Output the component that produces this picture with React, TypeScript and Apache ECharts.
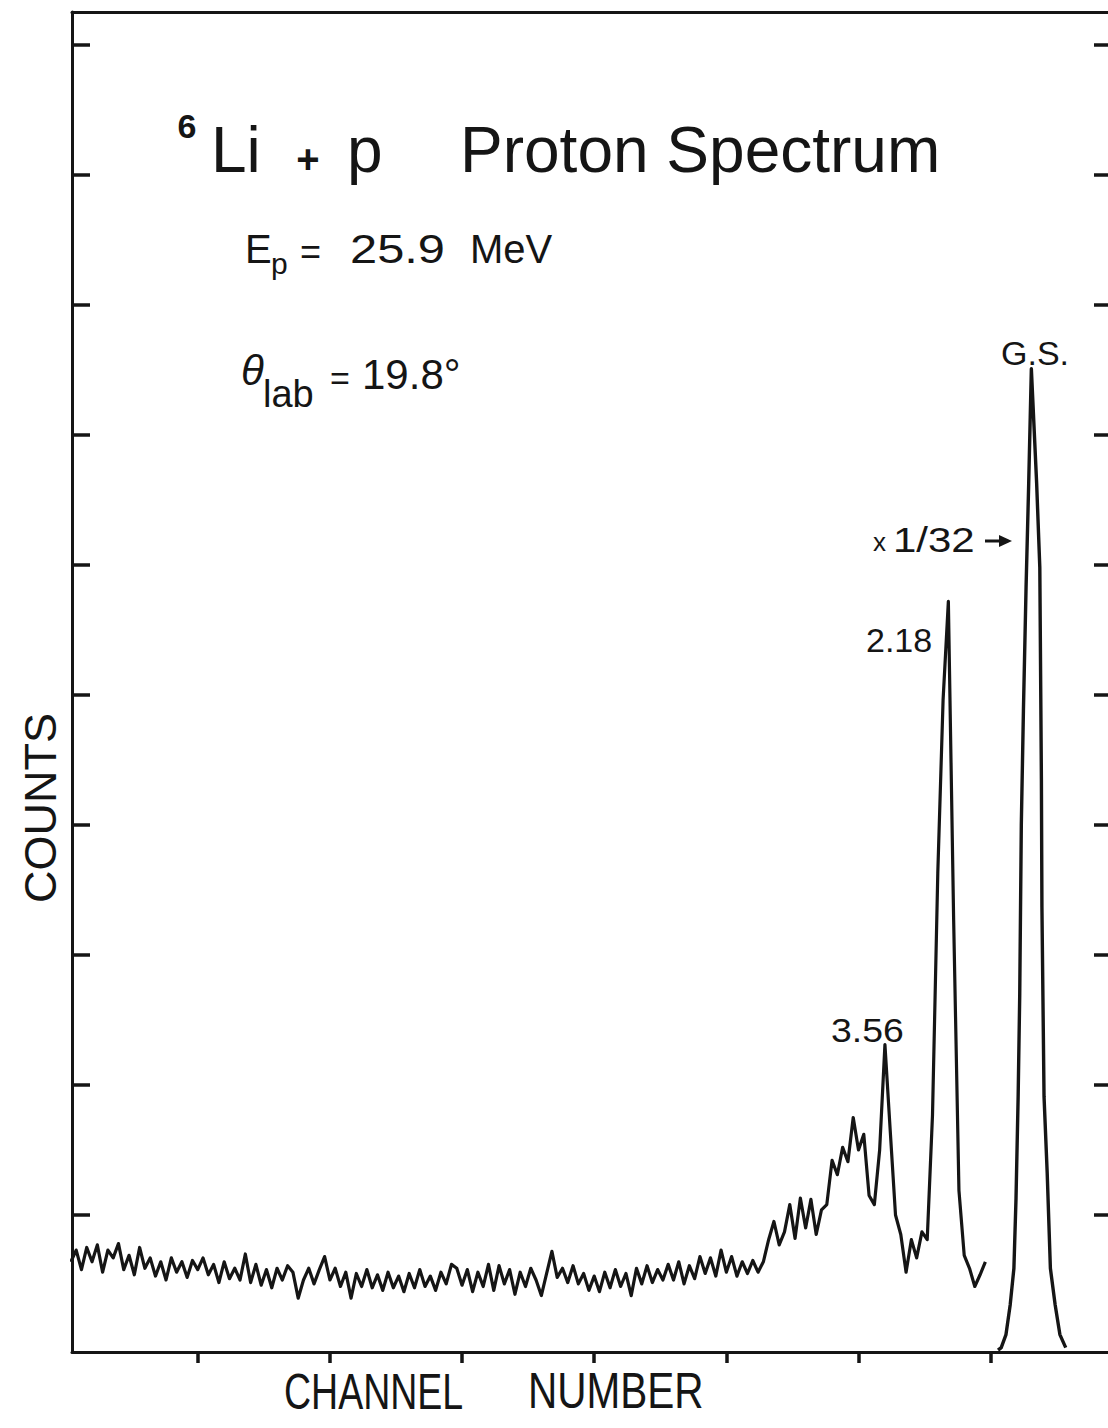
import React, { useEffect, useRef } from "react";
import * as echarts from "echarts";

// Main spectrum: counts per channel, channels 1..174 (display units: 100 counts per tick)
const mainCounts = [
  64, 73, 58, 75, 64, 77, 56, 73, 67, 78,
  58, 69, 54, 75, 59, 67, 53, 64, 50, 67,
  56, 64, 52, 65, 58, 67, 54, 62, 48, 64,
  51, 59, 50, 70, 48, 62, 46, 58, 44, 59,
  50, 61, 56, 36, 50, 59, 47, 58, 68, 50,
  59, 45, 56, 36, 55, 45, 58, 44, 54, 42,
  56, 44, 53, 41, 55, 44, 58, 45, 53, 42,
  56, 47, 62, 59, 46, 58, 41, 56, 45, 62,
  42, 61, 47, 58, 39, 56, 45, 59, 50, 38,
  55, 72, 52, 59, 48, 61, 47, 55, 42, 53,
  41, 56, 44, 58, 45, 55, 38, 59, 47, 61,
  48, 58, 50, 62, 50, 64, 47, 61, 51, 68,
  55, 67, 53, 73, 56, 68, 53, 64, 55, 65,
  56, 64, 81, 95, 77, 87, 108, 82, 113, 90,
  112, 85, 104, 108, 142, 131, 152, 141, 175, 150,
  162, 115, 108, 150, 231, 165, 100, 85, 56, 81,
  67, 87, 81, 177, 363, 496, 572, 327, 119, 69,
  59, 45, 54, 64,
];
const mainStartChannel = 1;

// Ground-state peak (plotted x 1/32), channel / counts pairs
const gsChannels = [176.4, 177.0, 177.9, 178.7, 179.4, 179.8, 180.2, 180.5, 180.8, 181.2, 181.7, 182.2, 182.7, 183.7, 184.3, 184.6, 184.7, 185.1, 185.7, 186.3, 187.2, 188.1, 189.2];
const gsCounts = [-4, -2, 8, 31, 59, 113, 191, 269, 400, 488, 583, 663, 751, 663, 598, 435, 337, 191, 132, 59, 31, 8, -2];

const xTickValues = [25, 50, 75, 100, 125, 150, 175];
const yTickValues = [100, 200, 300, 400, 500, 600, 700, 800, 900, 1000];

const X_MIN = 1.21;
const X_MAX = 197.2;
const Y_MIN = -5.4;
const Y_MAX = 1025.4;

const FONT = '"Liberation Sans", Arial, sans-serif';
const INK = "#151515";

function txt(
  text: string,
  x: number,
  y: number,
  size: number,
  opts: { weight?: string; italic?: boolean; scaleX?: number; align?: string; rotation?: number } = {}
) {
  return {
    type: "text",
    x,
    y,
    scaleX: opts.scaleX ?? 1,
    rotation: opts.rotation ?? 0,
    z: 10,
    style: {
      text,
      font: `${opts.italic ? "italic " : ""}${opts.weight ?? "normal"} ${size}px ${FONT}`,
      fill: INK,
      textAlign: opts.align ?? "left",
      textVerticalAlign: "middle",
    },
  };
}

export default function App() {
  const ref = useRef<HTMLDivElement>(null);

  useEffect(() => {
    if (!ref.current) return;
    const chart = echarts.init(ref.current, undefined, { renderer: "svg" });

    const mainData = mainCounts.map((v, i) => [i + mainStartChannel, v]);
    const gsData = gsChannels.map((c, i) => [c, gsCounts[i]]);

    const axisLineStyle = { color: INK, width: 3 };
    const tickStyle = { color: INK, width: 3.5 };

    chart.setOption({
      animation: false,
      backgroundColor: "#ffffff",
      grid: { left: 72, top: 12, width: 1038, height: 1340, containLabel: false },
      xAxis: [
        {
          type: "value",
          min: X_MIN,
          max: X_MAX,
          position: "bottom",
          axisLine: { show: true, onZero: false, lineStyle: axisLineStyle },
          axisTick: { show: true, inside: false, length: 11, lineStyle: tickStyle, customValues: xTickValues },
          axisLabel: { show: false },
          splitLine: { show: false },
        },
        {
          type: "value",
          min: X_MIN,
          max: X_MAX,
          position: "top",
          axisLine: { show: true, onZero: false, lineStyle: axisLineStyle },
          axisTick: { show: false },
          axisLabel: { show: false },
          splitLine: { show: false },
        },
      ],
      yAxis: [
        {
          type: "value",
          min: Y_MIN,
          max: Y_MAX,
          position: "left",
          axisLine: { show: true, onZero: false, lineStyle: axisLineStyle },
          axisTick: { show: true, inside: true, length: 18, lineStyle: tickStyle, customValues: yTickValues },
          axisLabel: { show: false },
          splitLine: { show: false },
        },
        {
          type: "value",
          min: Y_MIN,
          max: Y_MAX,
          position: "right",
          axisLine: { show: false, onZero: false },
          axisTick: { show: true, inside: true, length: 14, lineStyle: tickStyle, customValues: yTickValues },
          axisLabel: { show: false },
          splitLine: { show: false },
        },
      ],
      series: [
        {
          type: "line",
          name: "spectrum",
          data: mainData,
          showSymbol: false,
          symbol: "none",
          lineStyle: { color: INK, width: 3.2, join: "round" },
          clip: true,
        },
        {
          type: "line",
          name: "G.S. x1/32",
          data: gsData,
          showSymbol: false,
          symbol: "none",
          lineStyle: { color: INK, width: 3.4, join: "round" },
          clip: true,
        },
      ],
      graphic: [
        // Title
        txt("6", 187, 126, 34, { weight: "bold", align: "center" }),
        txt("Li", 211, 150, 64),
        txt("+", 308, 159, 40, { weight: "bold", align: "center" }),
        txt("p", 347, 150, 64),
        txt("Proton Spectrum", 460, 150, 64),
        // E_p line
        txt("E", 245, 249, 40),
        txt("p", 271, 263, 30),
        txt("=", 300, 251, 36),
        txt("25.9", 350, 249, 40, { scaleX: 1.22 }),
        txt("MeV", 470, 249, 40),
        // theta line
        txt("θ", 241, 370, 42, { italic: true }),
        txt("lab", 263, 394, 38),
        txt("=", 330, 378, 34),
        txt("19.8°", 362, 374, 42),
        // Peak labels
        txt("G.S.", 1001, 353, 34),
        txt("x", 873, 542, 26),
        txt("1/32", 893, 540, 35, { scaleX: 1.2 }),
        {
          type: "line",
          z: 10,
          shape: { x1: 985, y1: 541, x2: 1002, y2: 541 },
          style: { stroke: INK, lineWidth: 3 },
        },
        {
          type: "polygon",
          z: 10,
          shape: { points: [[999, 535], [1012, 541], [999, 547]] },
          style: { fill: INK },
        },
        txt("2.18", 866, 640, 34),
        txt("3.56", 831, 1031, 34, { scaleX: 1.1 }),
        // Axis titles
        txt("COUNTS", 40, 808, 45, { align: "center", rotation: Math.PI / 2 }),
        txt("CHANNEL", 284, 1391, 50, { scaleX: 0.75 }),
        txt("NUMBER", 528, 1391, 50, { scaleX: 0.81 }),
      ],
    });

    return () => {
      chart.dispose();
    };
  }, []);

  return (
    <div
      ref={ref}
      style={{ position: "absolute", left: 0, top: 0, width: 1108, height: 1428, background: "#ffffff" }}
    />
  );
}
